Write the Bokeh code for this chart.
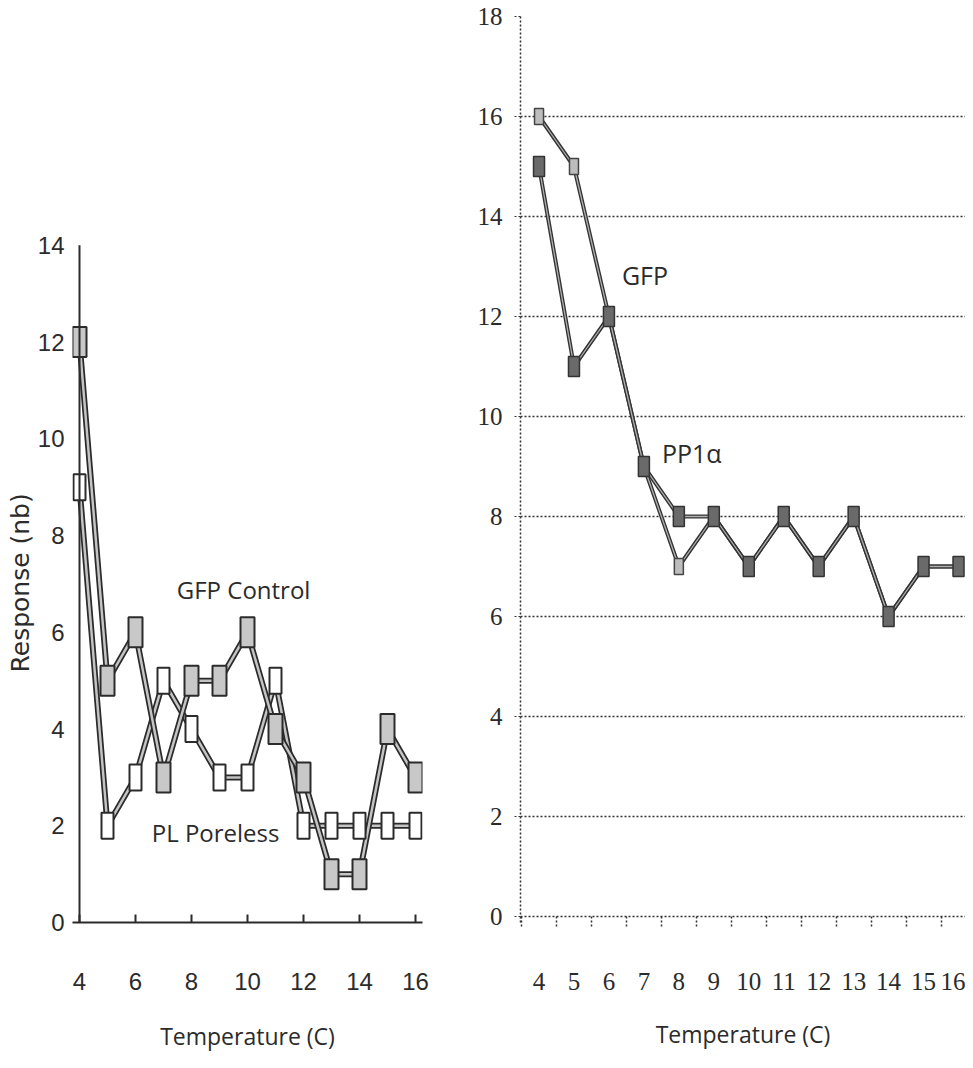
from bokeh.plotting import figure
from bokeh.layouts import row
from bokeh.models import Range1d, FixedTicker, BoxAnnotation, Title
from bokeh.core.properties import value
from bokeh.embed import file_html
from bokeh.resources import INLINE

# ---- data (left panel) ----
temps_left = [4, 5, 6, 7, 8, 9, 10, 11, 12, 13, 14, 15, 16]
gfp_control = [12, 5, 6, 3, 5, 5, 6, 4, 3, 1, 1, 4, 3]
pl_poreless = [9, 2, 3, 5, 4, 3, 3, 5, 2, 2, 2, 2, 2]
left_xticks = [4, 6, 8, 10, 12, 14, 16]
left_yticks = [0, 2, 4, 6, 8, 10, 12, 14]

# ---- data (right panel) ----
temps_right = [4, 5, 6, 7, 8, 9, 10, 11, 12, 13, 14, 15, 16]
gfp = [16, 15, 12, 9, 7, 8, 7, 8, 7, 8, 6, 7, 7]
pp1a = [15, 11, 12, 9, 8, 8, 7, 8, 7, 8, 6, 7, 7]
right_yticks = [0, 2, 4, 6, 8, 10, 12, 14, 16, 18]

DARK = "#2b2b2b"
H = 1058
BT, BB = 16, 136

# ================= LEFT =================
p1 = figure(width=448, height=H, x_range=Range1d(3.75, 16.25), y_range=Range1d(0, 18.73),
            output_backend="svg", toolbar_location=None,
            min_border_left=72, min_border_right=26, min_border_top=BT, min_border_bottom=BB)
p1.outline_line_color = None
p1.grid.visible = False

p1.xaxis.ticker = FixedTicker(ticks=left_xticks)
p1.yaxis.ticker = FixedTicker(ticks=left_yticks)
for ax in (p1.xaxis, p1.yaxis):
    ax.major_label_text_font = "Liberation Sans"
    ax.major_label_text_font_size = "24px"
    ax.major_label_text_color = DARK
    ax.minor_tick_line_color = None
p1.yaxis.axis_line_color = None
p1.yaxis.major_tick_line_color = None
p1.yaxis.major_tick_in = 0
p1.yaxis.major_tick_out = 0
p1.yaxis.major_label_standoff = 8

p1.xaxis.axis_line_color = DARK
p1.xaxis.axis_line_width = 2
p1.xaxis.major_tick_line_color = DARK
p1.xaxis.major_tick_line_width = 2
p1.xaxis.major_tick_in = 8
p1.xaxis.major_tick_out = 0
p1.xaxis.major_label_standoff = 50
p1.xaxis.axis_label = "Temperature (C)"
p1.xaxis.axis_label_text_font = "Open Sans"
p1.xaxis.axis_label_text_font_size = "23px"
p1.xaxis.axis_label_text_font_style = "normal"
p1.xaxis.axis_label_text_color = DARK
p1.xaxis.axis_label_standoff = 27

# y axis line at x = 4, running 0..14
p1.add_layout(BoxAnnotation(left=4, right=4, bottom=0, top=14, fill_alpha=0,
                            line_color=DARK, line_alpha=1.0, line_width=2))
p1.add_layout(Title(text="Response (nb)", align="left", offset=250, standoff=0,
                    text_font="DejaVu Sans", text_font_size="25px",
                    text_font_style="normal", text_color=DARK), "left")

# double-line look
for ys in (pl_poreless, gfp_control):
    p1.line(temps_left, ys, line_color=DARK, line_width=6)
    p1.line(temps_left, ys, line_color="#c4c4c4", line_width=2.5)

p1.rect(temps_left, pl_poreless, width=12, height=26, width_units="screen", height_units="screen",
        fill_color="white", line_color=DARK, line_width=2)
p1.rect(temps_left, gfp_control, width=14, height=30, width_units="screen", height_units="screen",
        fill_color="#c8c8c8", line_color=DARK, line_width=2)

p1.text(x=[9.86], y=[6.89], text=["GFP Control"], text_align="center", text_baseline="middle",
        text_font=value("Open Sans"), text_font_size="24px", text_color=DARK)
p1.text(x=[8.86], y=[1.86], text=["PL Poreless"], text_align="center", text_baseline="middle",
        text_font=value("Open Sans"), text_font_size="24px", text_color=DARK)

# ================= RIGHT =================
p2 = figure(width=517, height=H, x_range=Range1d(3.47, 16.2), y_range=Range1d(-0.12, 18),
            output_backend="svg", toolbar_location=None,
            min_border_left=72, min_border_right=0, min_border_top=BT, min_border_bottom=BB)
p2.outline_line_color = None
p2.xgrid.visible = False
p2.ygrid.ticker = FixedTicker(ticks=right_yticks)
p2.ygrid.grid_line_color = "#333333"
p2.ygrid.grid_line_width = 1.5
p2.ygrid.grid_line_dash = "2 2"

p2.xaxis.ticker = FixedTicker(ticks=temps_right, minor_ticks=[t - 0.5 for t in temps_right])
p2.yaxis.ticker = FixedTicker(ticks=right_yticks)
for ax in (p2.xaxis, p2.yaxis):
    ax.major_label_text_font = "Liberation Serif"
    ax.major_label_text_font_size = "25px"
    ax.major_label_text_color = DARK

p2.yaxis.axis_line_color = "#333333"
p2.yaxis.axis_line_width = 1.5
p2.yaxis.axis_line_dash = "2 2"
p2.yaxis.minor_tick_line_color = None
p2.yaxis.major_tick_line_color = "#333333"
p2.yaxis.major_tick_line_dash = "2 2"
p2.yaxis.major_tick_in = 0
p2.yaxis.major_tick_out = 6
p2.yaxis.major_label_standoff = 12

p2.xaxis.axis_line_color = None
p2.xaxis.major_tick_line_color = None
p2.xaxis.major_tick_out = 0
p2.xaxis.major_tick_in = 0
p2.xaxis.minor_tick_line_color = "#333333"
p2.xaxis.minor_tick_line_dash = "2 2"
p2.xaxis.minor_tick_line_width = 1.5
p2.xaxis.minor_tick_in = 6
p2.xaxis.minor_tick_out = 4
p2.xaxis.major_label_standoff = 46
p2.xaxis.axis_label = "Temperature (C)"
p2.xaxis.axis_label_text_font = "Open Sans"
p2.xaxis.axis_label_text_font_size = "23px"
p2.xaxis.axis_label_text_font_style = "normal"
p2.xaxis.axis_label_text_color = DARK
p2.xaxis.axis_label_standoff = 25

for ys in (gfp, pp1a):
    p2.line(temps_right, ys, line_color="#333333", line_width=4)
    p2.line(temps_right, ys, line_color="#b0b0b0", line_width=1.3)

p2.rect(temps_right, gfp, width=9, height=16, width_units="screen", height_units="screen",
        fill_color="#bdbdbd", line_color="#444444", line_width=1.5)
p2.rect(temps_right, pp1a, width=11, height=20, width_units="screen", height_units="screen",
        fill_color="#6a6a6a", line_color="#333333", line_width=1.5)

p2.text(x=[7.03], y=[12.83], text=["GFP"], text_align="center", text_baseline="middle",
        text_font=value("Open Sans"), text_font_size="25px", text_color=DARK)
p2.text(x=[8.37], y=[9.27], text=["PP1α"], text_align="center", text_baseline="middle",
        text_font=value("Open Sans"), text_font_size="25px", text_color=DARK)

layout = row(p1, p2)
open("out.html", "w").write(file_html(layout, INLINE))
